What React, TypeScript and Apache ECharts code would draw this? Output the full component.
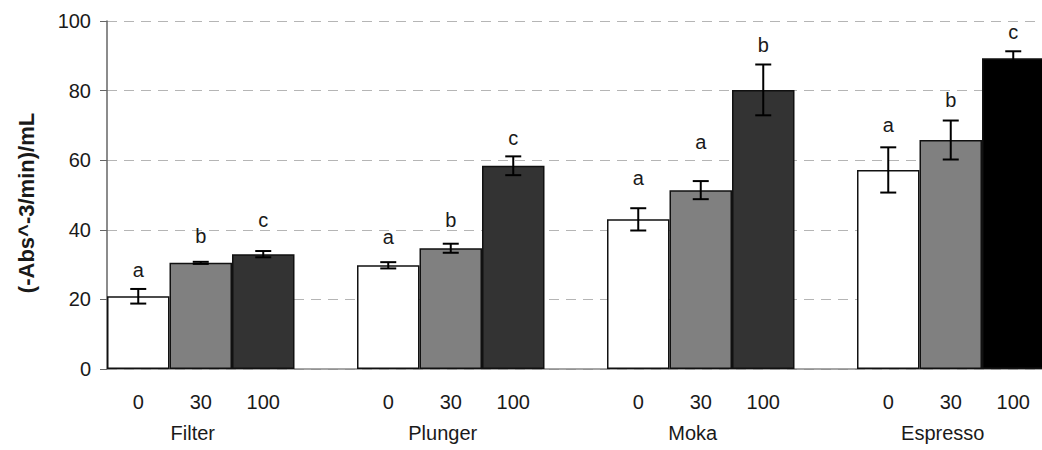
import React, { useEffect, useRef } from "react";
import * as echarts from "echarts";

const groups = ["Filter", "Plunger", "Moka", "Espresso"];
const doseLabels = ["0", "30", "100"];
const mean0 = [20.9, 29.8, 43.0, 57.2];
const mean30 = [30.5, 34.7, 51.4, 65.8];
const mean100 = [33.0, 58.4, 80.2, 89.3];
const err0 = [2.1, 0.9, 3.2, 6.5];
const err30 = [0.3, 1.3, 2.6, 5.6];
const err100 = [0.9, 2.7, 7.3, 2.0];
const letters0 = ["a", "a", "a", "a"];
const letters30 = ["b", "b", "a", "b"];
const letters100 = ["c", "c", "b", "c"];
const letterPos0 = [28.4, 37.9, 54.9, 70.1];
const letterPos30 = [38.2, 42.8, 65.2, 77.3];
const letterPos100 = [42.8, 66.4, 93.1, 96.8];
const yTicks = { min: 0, max: 100, interval: 20 };
const yTitle = "(-Abs^-3/min)/mL";

const FONT = "'Liberation Sans', Arial, sans-serif";

export default function App() {
  const ref = useRef<HTMLDivElement>(null);
  useEffect(() => {
    document.body.style.margin = "0";
    if (!ref.current) return;
    const chart = echarts.init(ref.current, undefined, { renderer: "svg" });

    const slots = groups.length * 4;
    const slotLabels = groups.flatMap(() => [...doseLabels, ""]);
    const groupLabels = groups.flatMap((g) => ["", g, "", ""]);
    const means = [mean0, mean30, mean100];
    const errs = [err0, err30, err100];
    const letters = [letters0, letters30, letters100];
    const letterPos = [letterPos0, letterPos30, letterPos100];
    const colors = ["#ffffff", "#808080", "#333333"];

    const barSeries = means.map((m, d) => {
      const data: any[] = new Array(slots).fill(null);
      m.forEach((v, g) => {
        const item: any = { value: v };
        if (d === 2 && g === 3) item.itemStyle = { color: "#000000" };
        data[g * 4 + d] = item;
      });
      return {
        type: "bar",
        data,
        barGap: "-100%",
        barCategoryGap: "0%",
        itemStyle: { color: colors[d], borderColor: "#111", borderWidth: 1.5 },
        z: 2,
      };
    });

    const errData: any[] = [];
    const letterData: any[] = [];
    means.forEach((m, d) => {
      m.forEach((v, g) => {
        const s = g * 4 + d;
        errData.push([s, v - errs[d][g], v + errs[d][g]]);
        letterData.push([s, letterPos[d][g], letters[d][g]]);
      });
    });

    const labelStyle = { interval: 0, fontSize: 20, color: "#1a1a1a", fontFamily: FONT, margin: 23 };

    chart.setOption({
      animation: false,
      grid: { left: 107, top: 21, width: 1000, bottom: 81, outerBoundsMode: "none", containLabel: false },
      graphic: [
        {
          type: "text",
          x: 26,
          y: 203,
          rotation: Math.PI / 2,
          style: {
            text: yTitle,
            fontSize: 22,
            fontWeight: "bold",
            fontFamily: FONT,
            fill: "#1a1a1a",
            align: "center",
            verticalAlign: "middle",
          },
        },
      ],
      xAxis: [
        {
          type: "category",
          data: slotLabels,
          axisLine: { show: true, lineStyle: { color: "#888", width: 1.5 } },
          axisTick: { show: false },
          axisLabel: labelStyle,
          splitLine: { show: false },
        },
        {
          type: "category",
          data: groupLabels,
          position: "bottom",
          offset: 31,
          axisLine: { show: false },
          axisTick: { show: false },
          axisLabel: { ...labelStyle, padding: [0, 16, 0, 0] },
          splitLine: { show: false },
        },
      ],
      yAxis: {
        type: "value",
        min: yTicks.min,
        max: yTicks.max,
        interval: yTicks.interval,
        axisLine: { show: true, lineStyle: { color: "#666", width: 1.5 } },
        axisTick: { show: true, length: 7, lineStyle: { color: "#666" } },
        axisLabel: { fontSize: 20, color: "#1a1a1a", fontFamily: FONT, margin: 16 },
        splitLine: { show: true, lineStyle: { color: "#b5b5b5", type: [10, 7], width: 1.2 } },
      },
      series: [
        ...barSeries,
        {
          type: "custom",
          data: errData,
          z: 5,
          renderItem: (params: any, api: any) => {
            const x = api.value(0);
            const lo = api.coord([x, api.value(1)]);
            const hi = api.coord([x, api.value(2)]);
            const half = 8;
            const style = { stroke: "#000", lineWidth: 2 };
            return {
              type: "group",
              children: [
                { type: "line", shape: { x1: hi[0], y1: hi[1], x2: lo[0], y2: lo[1] }, style },
                { type: "line", shape: { x1: hi[0] - half, y1: hi[1], x2: hi[0] + half, y2: hi[1] }, style },
                { type: "line", shape: { x1: lo[0] - half, y1: lo[1], x2: lo[0] + half, y2: lo[1] }, style },
              ],
            };
          },
        },
        {
          type: "custom",
          data: letterData,
          z: 6,
          renderItem: (params: any, api: any) => {
            const p = api.coord([api.value(0), api.value(1)]);
            const item = letterData[params.dataIndex];
            return {
              type: "text",
              x: p[0],
              y: p[1],
              style: {
                text: item[2],
                fontSize: 20,
                fontFamily: FONT,
                fill: "#1a1a1a",
                align: "center",
                verticalAlign: "middle",
              },
            };
          },
        },
      ],
    });
    return () => chart.dispose();
  }, []);
  return <div ref={ref} style={{ width: 1042, height: 450, overflow: "hidden" }} />;
}
